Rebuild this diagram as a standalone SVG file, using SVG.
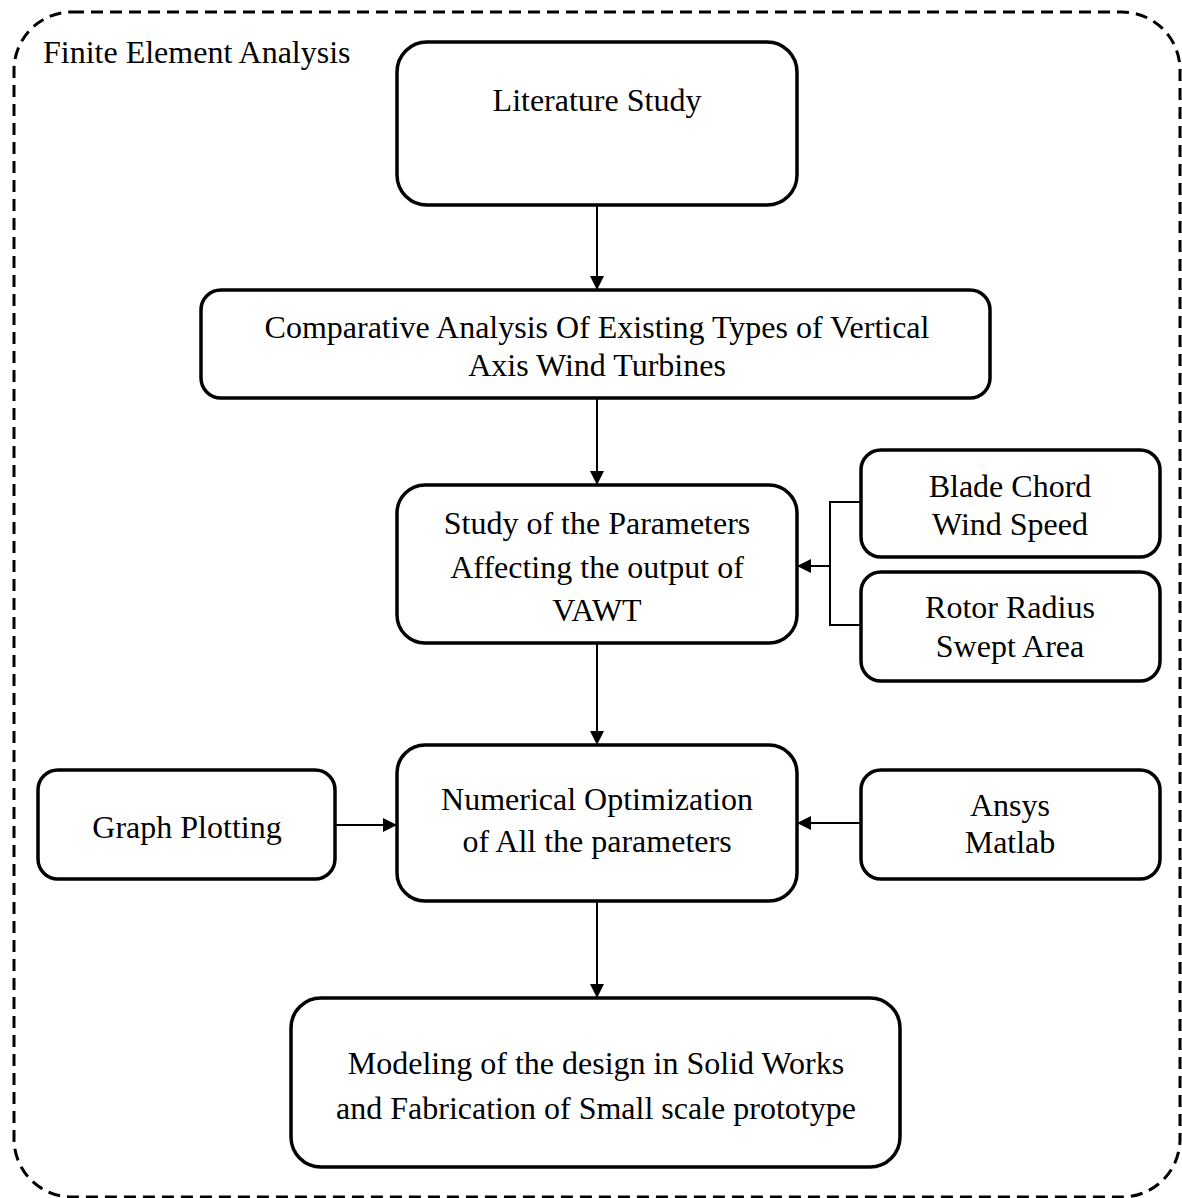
<svg xmlns="http://www.w3.org/2000/svg" width="1182" height="1198" viewBox="0 0 1182 1198">
<defs>
<style>
.box{fill:#fff;stroke:#000;stroke-width:3.5}
.t{font-family:"Liberation Serif","Times New Roman",serif;font-size:32px;fill:#000;text-anchor:middle}
.c{fill:none;stroke:#000;stroke-width:2}
</style>
<marker id="ahb" viewBox="0 0 10 10" refX="10" refY="5" markerWidth="14" markerHeight="14" markerUnits="userSpaceOnUse" orient="auto">
<path d="M0,0 L10,5 L0,10 Z" fill="#000"/>
</marker>
</defs>
<rect id="frame" x="14" y="12" width="1166" height="1185" rx="58" fill="none" stroke="#000" stroke-width="3" stroke-dasharray="12,7"/>
<text class="t" x="43" y="63" style="text-anchor:start">Finite Element Analysis</text>
<g id="connectors">
<line class="c" x1="597" y1="205" x2="597" y2="290" marker-end="url(#ahb)"/>
<line class="c" x1="597" y1="398" x2="597" y2="485" marker-end="url(#ahb)"/>
<polyline class="c" points="861,502 830,502 830,625 861,625"/>
<line class="c" x1="830" y1="566" x2="797" y2="566" marker-end="url(#ahb)"/>
<line class="c" x1="597" y1="643" x2="597" y2="745" marker-end="url(#ahb)"/>
<line class="c" x1="335" y1="825" x2="397" y2="825" marker-end="url(#ahb)"/>
<line class="c" x1="861" y1="823" x2="797" y2="823" marker-end="url(#ahb)"/>
<line class="c" x1="597" y1="901" x2="597" y2="998" marker-end="url(#ahb)"/>
</g>
<g id="literature">
<rect class="box" x="397" y="42" width="400" height="163" rx="30"/>
<text class="t" x="597" y="111">Literature Study</text>
</g>
<g id="comparative">
<rect class="box" x="201" y="290" width="789" height="108" rx="20"/>
<text class="t" x="597" y="338">Comparative Analysis Of Existing Types of Vertical</text>
<text class="t" x="597" y="376">Axis Wind Turbines</text>
</g>
<g id="study">
<rect class="box" x="397" y="485" width="400" height="158" rx="28"/>
<text class="t" x="597" y="534">Study of the Parameters</text>
<text class="t" x="597" y="578">Affecting the output of</text>
<text class="t" x="597" y="621">VAWT</text>
</g>
<g id="blade">
<rect class="box" x="861" y="450" width="299" height="107" rx="20"/>
<text class="t" x="1010" y="497">Blade Chord</text>
<text class="t" x="1010" y="535">Wind Speed</text>
</g>
<g id="rotor">
<rect class="box" x="861" y="572" width="299" height="109" rx="20"/>
<text class="t" x="1010" y="618">Rotor Radius</text>
<text class="t" x="1010" y="657">Swept Area</text>
</g>
<g id="numerical">
<rect class="box" x="397" y="745" width="400" height="156" rx="28"/>
<text class="t" x="597" y="810">Numerical Optimization</text>
<text class="t" x="597" y="852">of All the parameters</text>
</g>
<g id="graph">
<rect class="box" x="38" y="770" width="297" height="109" rx="20"/>
<text class="t" x="187" y="838">Graph Plotting</text>
</g>
<g id="ansys">
<rect class="box" x="861" y="770" width="299" height="109" rx="20"/>
<text class="t" x="1010" y="816">Ansys</text>
<text class="t" x="1010" y="853">Matlab</text>
</g>
<g id="modeling">
<rect class="box" x="291" y="998" width="609" height="169" rx="30"/>
<text class="t" x="596" y="1074">Modeling of the design in Solid Works</text>
<text class="t" x="596" y="1119">and Fabrication of Small scale prototype</text>
</g>
</svg>
